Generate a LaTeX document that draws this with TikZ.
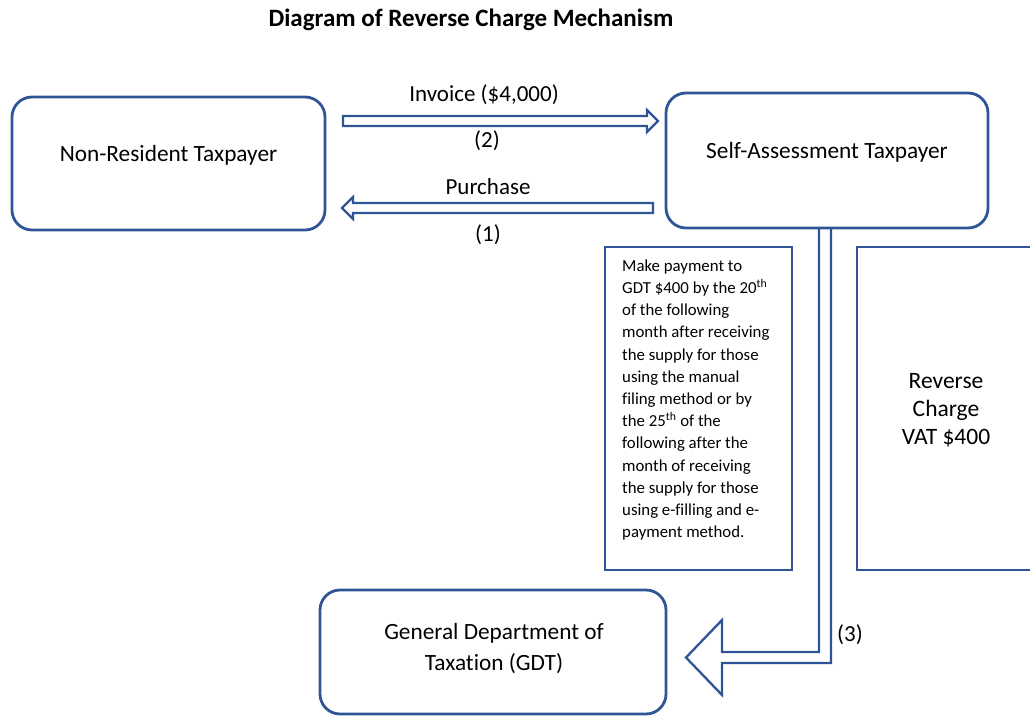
\documentclass[tikz,border=0pt]{standalone}
\usepackage{fontspec}
\setmainfont{Carlito}[Ligatures=NoCommon]
\definecolor{bblue}{RGB}{47,85,151}
\tikzset{
  rbox/.style={draw=bblue, line width=2.8pt, rounded corners=20pt},
  sbox/.style={draw=bblue, line width=2.4pt},
  barrow/.style={draw=bblue, line width=2.3pt, fill=white, line join=miter},
  lbl/.style={font=\fontsize{23}{26}\selectfont, inner sep=0pt},
  big/.style={font=\fontsize{23.3}{31}\selectfont, inner sep=0pt, align=center},
}
\begin{document}
\begin{tikzpicture}[x=1pt,y=-1pt]
\useasboundingbox (0,0) rectangle (1030,717);
% title
\node[font=\fontsize{25}{28}\selectfont\bfseries, inner sep=0pt] (title) at (471,20) {Diagram of Reverse Charge Mechanism};
% boxes
\draw[rbox] (12,97) rectangle (325,230);
\node[big] (nr) at (168.5,155) {Non-Resident Taxpayer};
\draw[rbox] (666,93) rectangle (988,228);
\node[big] (sa) at (827,152) {Self-Assessment Taxpayer};
\draw[rbox] (320,590) rectangle (666,714);
\node[big] (gdt) at (494,649) {General Department of\\Taxation (GDT)};
\draw[sbox] (605,247) rectangle (792,570);
\node[font=\fontsize{16.8}{22.2}\selectfont, align=left, anchor=north west, inner sep=0pt] (note) at (622,259.5) {Make payment to\\GDT \$400 by the 20\textsuperscript{th}\\of the following\\month after receiving\\the supply for those\\using the manual\\filing method or by\\the 25\textsuperscript{th} of the\\following after the\\month of receiving\\the supply for those\\using e-filling and e-\\payment method.};
\draw[sbox] (1045,247) -- (857,247) -- (857,570) -- (1045,570);
\node[big, font=\fontsize{23.5}{28}\selectfont] (rc) at (946,410) {Reverse\\Charge\\VAT \$400};
% arrow (2) invoice
\draw[barrow] (343,116) -- (647,116) -- (647,110) -- (658,121) -- (647,132) -- (647,126) -- (343,126) -- cycle;
\node[lbl] (inv) at (484,95) {Invoice (\$4,000)};
\node[lbl] (n2) at (487,141) {(2)};
% arrow (1) purchase
\draw[barrow] (653,203) -- (353,203) -- (353,197) -- (342,208) -- (353,219) -- (353,213) -- (653,213) -- cycle;
\node[lbl] (pur) at (488,187) {Purchase};
\node[lbl] (n1) at (488,235) {(1)};
% arrow (3)
\draw[barrow, fill=none] (819,228) -- (819,652) -- (722,652) -- (722,620) -- (686,657.5) -- (722,695) -- (722,663) -- (831,663) -- (831,228);
\node[lbl] (n3) at (850,635) {(3)};
\end{tikzpicture}
\end{document}
